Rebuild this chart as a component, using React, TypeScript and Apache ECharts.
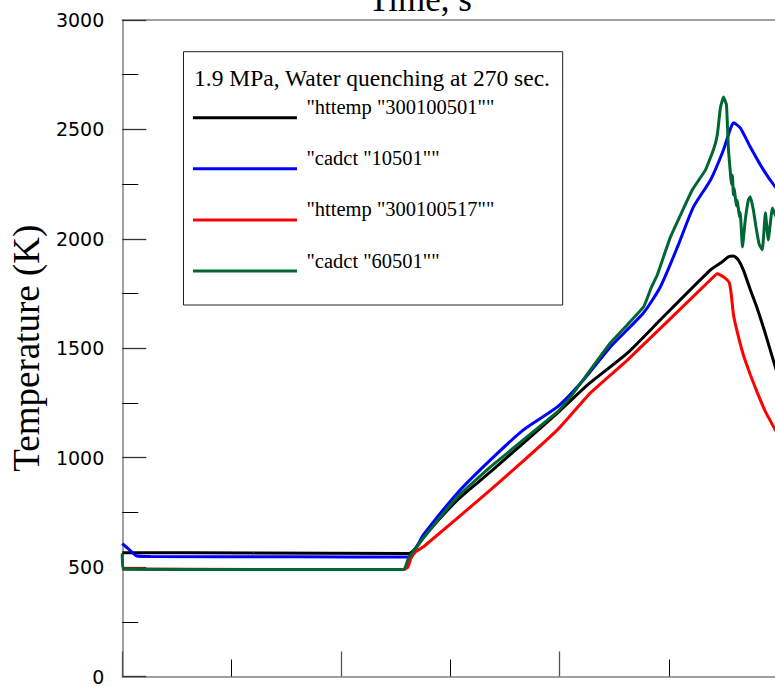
import React, { useEffect, useRef } from "react";
import * as echarts from "echarts";

// Time (s) and temperature (K)
const seriesNames = ['"httemp "300100501""', '"cadct "10501""', '"httemp "300100517""', '"cadct "60501""'];
const seriesColors = ["#000000", "#0000ff", "#ff0000", "#006633"];
const seriesSmooth = [0.2, 0.2, 0.15, 0.1];

const blackData: number[][] = [
  [0, 566], [60, 564], [131, 562], [134, 585], [137.9, 639], [153.4, 808], [168.5, 936],
  [199.1, 1205], [212.8, 1333], [231.1, 1479], [246.1, 1630], [269, 1858], [274.4, 1895],
  [277.2, 1918], [279.5, 1922], [281.7, 1904], [284, 1858], [287.2, 1767], [290.4, 1681],
  [294.1, 1566], [298.6, 1415], [300, 1370],
];

const blueData: number[][] = [
  [0, 607], [3.2, 580], [6.4, 552], [13, 548], [80, 547], [130.6, 546], [137.9, 650],
  [153.4, 840], [168.5, 991], [183.6, 1128], [199.1, 1233], [211, 1356], [223.3, 1507],
  [238.4, 1662], [246.1, 1781], [253.9, 1963], [261.2, 2146], [269, 2269], [274.9, 2406],
  [278, 2500], [279.5, 2530], [282.6, 2507], [287.2, 2420], [293.2, 2315], [298.6, 2237], [300, 2225],
];

const redData: number[][] = [
  [0, 491], [60, 489], [128.8, 489], [130.6, 500], [132, 540], [134.2, 570], [137.9, 594],
  [168.5, 854], [199.1, 1128], [214.2, 1297], [231.1, 1447], [269, 1813], [272.1, 1840],
  [274.9, 1826], [277.6, 1799], [278.5, 1744], [279.5, 1653], [281.3, 1571], [284, 1470],
  [287.2, 1379], [290.4, 1297], [294.1, 1210], [298.6, 1128], [300, 1105],
];

const greenData: number[][] = [
  [0, 562], [0.4, 491], [60, 489], [128.8, 489], [130.6, 534], [132.7, 565], [137.9, 635],
  [153.4, 822], [168.5, 959], [199.1, 1210], [205, 1278], [223.3, 1525], [238.4, 1689],
  [242, 1780], [244.7, 1836], [250.7, 2009], [260.7, 2224], [266.7, 2315], [270.3, 2406],
  [272.1, 2475], [273.5, 2598], [274.9, 2648], [276.3, 2612], [277.2, 2406], [278.1, 2300],
  [278.5, 2250], [279, 2290], [279.5, 2200], [279.9, 2230], [280.8, 2150], [281.3, 2175],
  [282.2, 2100], [282.6, 2120], [283.6, 1963], [284.9, 2087], [286.3, 2178], [287.2, 2192],
  [288.6, 2132], [290, 2041], [291.3, 1973], [292.7, 1950], [294.1, 2119], [295.4, 1995],
  [297.3, 2141], [298.6, 2109], [300, 2080],
];

const allData = [blackData, blueData, redData, greenData];

const xMin = 0;
const xMax = 400;
const xStep = 100;
const yMin = 0;
const yMax = 3000;
const yStep = 500;

const legendTitle = "1.9 MPa, Water quenching at 270 sec.";
const xName = "Time, s";
const yName = "Temperature (K)";

const SERIF = "'Liberation Serif', 'Times New Roman', serif";
const SANS = "'DejaVu Sans', sans-serif";

export default function App() {
  const ref = useRef<HTMLDivElement>(null);
  useEffect(() => {
    if (!ref.current) return;
    const chart = echarts.init(ref.current, null, { renderer: "svg" });
    const axisGray = "#808080";

    // legend drawn as graphic elements (line sample below-left of its label)
    const legendX = 193;
    const legendLineY0 = 157.7;
    const legendStep = 51.1;
    const legendGraphics: any[] = [];
    seriesNames.forEach((name, i) => {
      const ly = legendLineY0 + legendStep * i;
      legendGraphics.push({
        type: "line",
        shape: { x1: legendX, y1: ly, x2: legendX + 104, y2: ly },
        style: { stroke: seriesColors[i], lineWidth: 3 },
        z: 10,
      });
      legendGraphics.push({
        type: "text",
        x: 306.5,
        y: ly - 10.5,
        style: {
          text: name,
          fontFamily: SERIF,
          fontSize: 20.5,
          fill: "#000",
          textAlign: "left",
          textVerticalAlign: "middle",
        },
        z: 10,
      });
    });

    chart.setOption({
      animation: false,
      backgroundColor: "#ffffff",
      grid: { left: 121, top: 60, right: 3, bottom: 9, containLabel: false },
      xAxis: [
        {
          type: "value",
          min: xMin,
          max: xMax,
          interval: xStep,
          position: "bottom",
          axisLine: { show: true, lineStyle: { color: axisGray, width: 1.5 } },
          axisTick: { show: true, inside: true, length: 25, lineStyle: { color: "#555", width: 1.3 } },
          minorTick: { show: true, splitNumber: 2, length: 17, lineStyle: { color: "#000", width: 1 } },
          axisLabel: { show: false },
          splitLine: { show: false },
        },
        {
          type: "value",
          min: xMin,
          max: xMax,
          position: "top",
          axisLine: { show: true, lineStyle: { color: axisGray, width: 1.5 } },
          axisTick: { show: false },
          axisLabel: { show: false },
          splitLine: { show: false },
        },
      ],
      yAxis: {
        type: "value",
        min: yMin,
        max: yMax,
        interval: yStep,
        name: yName,
        nameLocation: "middle",
        nameGap: 77,
        nameTextStyle: { fontFamily: SERIF, fontSize: 37, color: "#000" },
        axisLine: { show: true, lineStyle: { color: axisGray, width: 1.5 } },
        axisTick: { show: true, inside: true, length: 24, lineStyle: { color: "#333", width: 1.3 } },
        minorTick: { show: true, splitNumber: 2, length: 16, lineStyle: { color: "#000", width: 1 } },
        axisLabel: {
          show: true,
          margin: 18,
          fontFamily: SANS,
          fontSize: 19,
          color: "#000",
          formatter: (v: number) => String(v),
        },
        splitLine: { show: false },
      },
      graphic: [
        {
          type: "rect",
          shape: { x: 183.5, y: 91.7, width: 379.2, height: 253.3 },
          style: { fill: "rgba(255,255,255,0)", stroke: "#222", lineWidth: 1 },
          z: 10,
        },
        {
          type: "text",
          x: 194,
          y: 117.5,
          style: {
            text: legendTitle,
            fontFamily: SERIF,
            fontSize: 23.5,
            fill: "#000",
            textAlign: "left",
            textVerticalAlign: "middle",
          },
          z: 10,
        },
        ...legendGraphics,
        {
          type: "text",
          x: 420,
          y: 39,
          style: {
            text: xName,
            fontFamily: SERIF,
            fontSize: 35,
            fill: "#000",
            textAlign: "center",
            textVerticalAlign: "middle",
          },
        },
      ],
      series: allData.map((d, i) => ({
        name: seriesNames[i],
        type: "line",
        data: d,
        showSymbol: false,
        symbol: "none",
        smooth: seriesSmooth[i],
        lineStyle: { color: seriesColors[i], width: 3 },
        itemStyle: { color: seriesColors[i] },
        z: 2 + i,
      })),
    });
    return () => chart.dispose();
  }, []);
  return (
    <div style={{ position: "fixed", left: 0, top: 0, width: 775, height: 686, overflow: "hidden", background: "#fff" }}>
      <div ref={ref} style={{ position: "absolute", left: 0, top: -40, width: 1000, height: 726 }} />
    </div>
  );
}
